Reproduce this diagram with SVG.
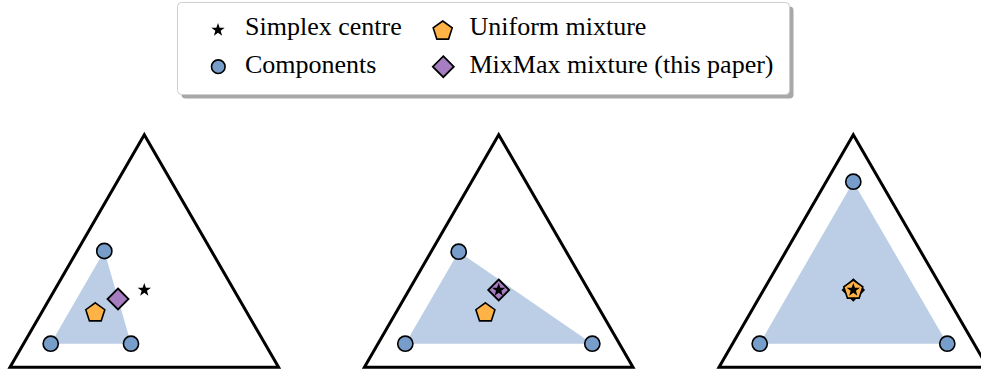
<svg xmlns="http://www.w3.org/2000/svg" xmlns:xlink="http://www.w3.org/1999/xlink" width="981" height="371" viewBox="0 0 981 371">
<style>
.tri{fill:none;stroke:#000;stroke-width:3;stroke-linejoin:miter}
.hull{fill:#bbcee5;stroke:none}
.comp{fill:#779ecb;stroke:#000;stroke-width:1.6}
.uni{fill:#ffb347;stroke:#000;stroke-width:1.6;stroke-linejoin:miter}
.mm{fill:#a77dc2;stroke:#000;stroke-width:1.8;stroke-linejoin:miter}
.star{fill:#000;stroke:none}
.lbl{font-family:"Liberation Serif","Times New Roman",serif;font-size:26px;fill:#000}
</style>
<defs>
<polygon id="pent" class="uni" points="0,-10 9.51,-3.09 5.88,8.09 -5.88,8.09 -9.51,-3.09"/>
<polygon id="dia" class="mm" points="0,-10.5 10.5,0 0,10.5 -10.5,0"/>
<polygon id="star" class="star" points="0,-7 1.65,-2.27 6.66,-2.16 2.66,0.86 4.11,5.66 0,2.8 -4.11,5.66 -2.66,0.86 -6.66,-2.16 -1.65,-2.27"/>
</defs>
<g id="legend">
<rect x="181.5" y="6.5" width="612" height="92" rx="4" fill="#a8a8a8"/>
<rect x="177.5" y="2.5" width="612" height="92" rx="4" fill="#fff" stroke="#cfcfcf" stroke-width="1"/>
<use xlink:href="#star" x="218" y="30"/>
<text class="lbl" x="245" y="35">Simplex centre</text>
<circle class="comp" cx="218.3" cy="66.7" r="6.8"/>
<text class="lbl" x="245" y="73">Components</text>
<use xlink:href="#pent" x="442.7" y="31"/>
<text class="lbl" x="469.5" y="35">Uniform mixture</text>
<use xlink:href="#dia" x="443.3" y="66.7"/>
<text class="lbl" x="469.5" y="73">MixMax mixture (this paper)</text>
</g>
<g id="panel1">
<polygon class="tri" points="144.3,134.7 10,367.3 278.6,367.3"/>
<polygon class="hull" points="104.3,251 50.7,343.7 131,343.7"/>
<circle class="comp" cx="104.3" cy="251" r="7.6"/>
<circle class="comp" cx="50.7" cy="343.7" r="7.6"/>
<circle class="comp" cx="131" cy="343.7" r="7.6"/>
<use xlink:href="#dia" x="118" y="299"/>
<use xlink:href="#pent" x="95.3" y="312.8"/>
<use xlink:href="#star" x="144.3" y="290"/>
</g>
<g id="panel2">
<polygon class="tri" points="498.7,134.7 364.4,367.3 633,367.3"/>
<polygon class="hull" points="458.7,251.7 405.3,343.7 592.3,343.7"/>
<circle class="comp" cx="458.7" cy="251.7" r="7.6"/>
<circle class="comp" cx="405.3" cy="343.7" r="7.6"/>
<circle class="comp" cx="592.3" cy="343.7" r="7.6"/>
<use xlink:href="#dia" x="498.7" y="290"/>
<use xlink:href="#pent" x="485.4" y="312.8"/>
<use xlink:href="#star" x="498.7" y="290"/>
</g>
<g id="panel3">
<polygon class="tri" points="853.3,134.7 719,367.3 987.6,367.3"/>
<polygon class="hull" points="853.3,181.7 759.7,343.7 947.3,343.7"/>
<circle class="comp" cx="853.3" cy="181.7" r="7.6"/>
<circle class="comp" cx="759.7" cy="343.7" r="7.6"/>
<circle class="comp" cx="947.3" cy="343.7" r="7.6"/>
<use xlink:href="#dia" x="853.3" y="290"/>
<use xlink:href="#pent" x="853.3" y="290"/>
<use xlink:href="#star" x="853.3" y="290"/>
</g>
<g id="connectors"/>
</svg>
